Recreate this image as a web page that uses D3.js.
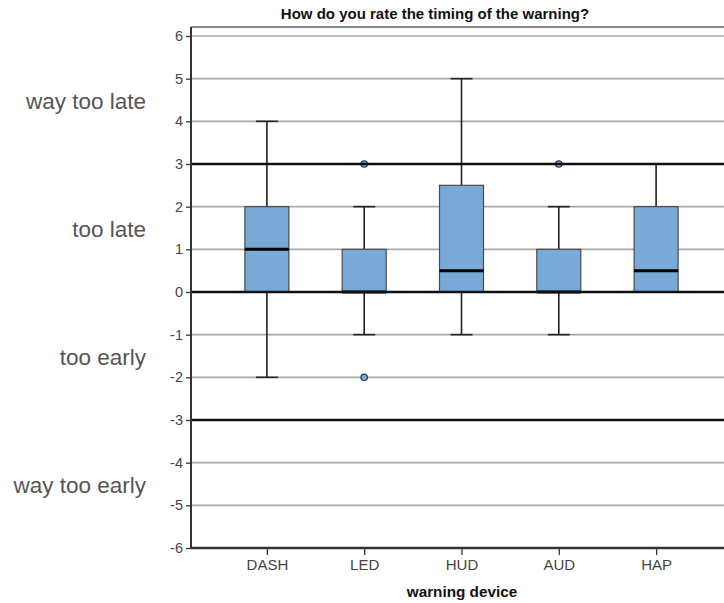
<!DOCTYPE html>
<html>
<head>
<meta charset="utf-8">
<script src="https://cdn.jsdelivr.net/npm/d3@7"></script>
<style>
  html, body { margin: 0; padding: 0; background: #fff; }
  svg { display: block; font-family: Arial, "Liberation Sans", sans-serif; }
</style>
</head>
<body>
<svg id="chart" width="724" height="603"></svg>
<script>
// Warning devices on the x axis
const devices = ["DASH", "LED", "HUD", "AUD", "HAP"];
// Five-number summaries per device (rating scale -6..6)
const whiskerLow  = [-2, -1, -1, -1, 0];
const quartile1   = [0, 0, 0, 0, 0];
const medians     = [1, 0, 0.5, 0, 0.5];
const quartile3   = [2, 1, 2.5, 1, 2];
const whiskerHigh = [4, 2, 5, 2, 3];
// Outlying responses per device
const outliers = [[], [3, -2], [], [3], []];
// Y axis ticks and the rating bands printed on the left
const yTicks = [-6, -5, -4, -3, -2, -1, 0, 1, 2, 3, 4, 5, 6];
const boundaryLines = [-3, 0, 3];
const bandLabels = ["way too late", "too late", "too early", "way too early"];
const bandCenters = [4.5, 1.5, -1.5, -4.5];

const svg = d3.select("#chart");
const plotLeft = 191, plotTop = 27, plotBottom = 548, plotRight = 732;

const y = d3.scaleLinear().domain([-6, 6]).range([plotBottom, 36]);
const x = d3.scalePoint().domain(devices).range([plotLeft, plotRight]).padding(0.78);

// Horizontal grid
svg.append("g").selectAll("line").data(yTicks.filter(t => !boundaryLines.includes(t)))
  .join("line")
  .attr("x1", plotLeft).attr("x2", 724)
  .attr("y1", d => y(d)).attr("y2", d => y(d))
  .attr("stroke", "#a8a8a8").attr("stroke-width", 1.6);

// Top frame line
svg.append("line").attr("x1", plotLeft).attr("x2", 724).attr("y1", plotTop).attr("y2", plotTop)
  .attr("stroke", "#8a8a8a").attr("stroke-width", 2);

// Title
svg.append("text").attr("x", 435).attr("y", 19).attr("text-anchor", "middle")
  .attr("font-weight", "bold").attr("font-size", 15).attr("fill", "#111")
  .text("How do you rate the timing of the warning?");

// Box plots
const data = devices.map((d, i) => ({
  name: d, lo: whiskerLow[i], q1: quartile1[i], med: medians[i],
  q3: quartile3[i], hi: whiskerHigh[i], out: outliers[i]
}));
const boxW = 44, capW = 22;
const g = svg.append("g").selectAll("g").data(data).join("g")
  .attr("transform", d => `translate(${x(d.name)},0)`);

g.append("line").attr("x1", 0).attr("x2", 0)
  .attr("y1", d => y(d.hi)).attr("y2", d => y(d.q3))
  .attr("stroke", "#222").attr("stroke-width", 1.6);
g.append("line").attr("x1", 0).attr("x2", 0)
  .attr("y1", d => y(d.q1)).attr("y2", d => y(d.lo))
  .attr("stroke", "#222").attr("stroke-width", 1.6);
g.append("line").attr("x1", -capW / 2).attr("x2", capW / 2)
  .attr("y1", d => y(d.hi)).attr("y2", d => y(d.hi))
  .attr("stroke", "#222").attr("stroke-width", 1.6);
g.append("line").attr("x1", -capW / 2).attr("x2", capW / 2)
  .attr("y1", d => y(d.lo)).attr("y2", d => y(d.lo))
  .attr("stroke", "#222").attr("stroke-width", 1.6);
g.append("rect").attr("x", -boxW / 2).attr("width", boxW)
  .attr("y", d => y(d.q3)).attr("height", d => y(d.q1) - y(d.q3))
  .attr("fill", "#79a9d6").attr("stroke", "#4a4a4a").attr("stroke-width", 1.2);

// Rating boundaries drawn over the boxes
svg.append("g").selectAll("line").data(boundaryLines).join("line")
  .attr("x1", plotLeft).attr("x2", 724)
  .attr("y1", d => y(d)).attr("y2", d => y(d))
  .attr("stroke", "#111").attr("stroke-width", 2.4);

g.append("line").attr("x1", -boxW / 2).attr("x2", boxW / 2)
  .attr("y1", d => y(d.med)).attr("y2", d => y(d.med))
  .attr("stroke", "#000").attr("stroke-width", 3);

g.selectAll("circle").data(d => d.out).join("circle")
  .attr("cx", 0).attr("cy", v => y(v)).attr("r", 3.2)
  .attr("fill", "#79a9d6").attr("stroke", "#2f3f50").attr("stroke-width", 1.3);

// Y axis
const yAxis = svg.append("g").attr("transform", `translate(${plotLeft},0)`)
  .call(d3.axisLeft(y).tickValues(yTicks).tickSize(5).tickPadding(3).tickFormat(d => String(d)));
yAxis.select(".domain").attr("stroke", "#333").attr("stroke-width", 2)
  .attr("d", `M0,${plotTop}V${plotBottom}`);
yAxis.selectAll(".tick line").attr("stroke", "#333").attr("stroke-width", 1.3);
yAxis.selectAll("text").attr("font-size", 14.5).attr("fill", "#444")
  .attr("font-family", "Arial, 'Liberation Sans', sans-serif");

// X axis
const xAxis = svg.append("g").attr("transform", `translate(0,${plotBottom})`)
  .call(d3.axisBottom(x).tickSize(7).tickPadding(4));
xAxis.select(".domain").attr("stroke", "#333").attr("stroke-width", 2.4)
  .attr("d", `M${plotLeft},0H724`);
xAxis.selectAll(".tick line").attr("stroke", "#333").attr("stroke-width", 1.3);
xAxis.selectAll("text").attr("font-size", 15).attr("fill", "#444")
  .attr("font-family", "Arial, 'Liberation Sans', sans-serif");

svg.append("text").attr("x", 462).attr("y", 597).attr("text-anchor", "middle")
  .attr("font-weight", "bold").attr("font-size", 15.3).attr("fill", "#111")
  .text("warning device");

// Rating band labels
svg.append("g").selectAll("text").data(bandLabels).join("text")
  .attr("x", 146).attr("y", (d, i) => y(bandCenters[i]) + 9)
  .attr("text-anchor", "end").attr("font-size", 22.5).attr("fill", "#555")
  .text(d => d);
</script>
</body>
</html>
